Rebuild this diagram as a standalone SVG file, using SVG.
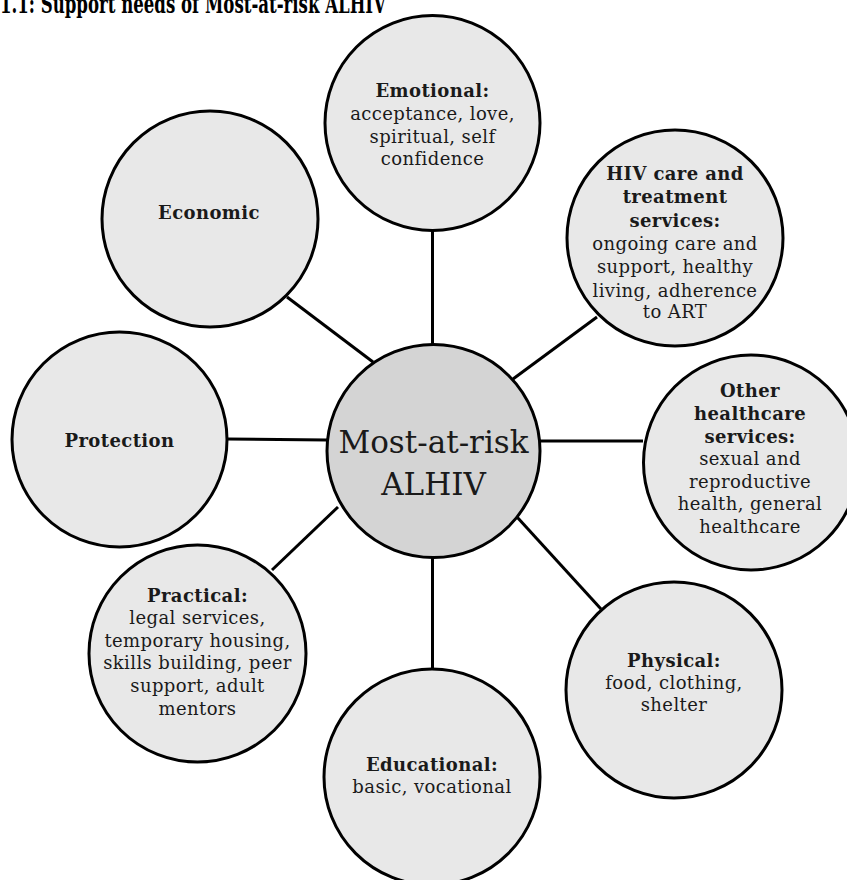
<svg xmlns="http://www.w3.org/2000/svg" width="847" height="880" viewBox="0 0 847 880">
<style>
.n{fill:#e8e8e8;stroke:#000;stroke-width:3}
.c{fill:#d4d4d4;stroke:#000;stroke-width:3}
.l{stroke:#000;stroke-width:3;fill:none}
text{font-family:"DejaVu Serif","Liberation Serif",serif;fill:#1a1a1a;text-anchor:middle}
.t{font-size:18px;letter-spacing:0.4px}
.b{font-weight:bold}
.ct{font-size:31px}
.title{font-size:26px;font-weight:bold;text-anchor:start;fill:#000;letter-spacing:0}
</style>
<rect width="847" height="880" fill="#fff"/>
<text class="title" x="0" y="13" textLength="386" lengthAdjust="spacingAndGlyphs">1.1: Support needs of Most-at-risk ALHIV</text>
<g id="connectors">
<line class="l" x1="432.5" y1="230" x2="432.5" y2="345"/>
<line class="l" x1="513" y1="379" x2="597" y2="317"/>
<line class="l" x1="540" y1="441" x2="643" y2="441"/>
<line class="l" x1="517" y1="517" x2="601" y2="609"/>
<line class="l" x1="432.5" y1="557" x2="432.5" y2="669"/>
<line class="l" x1="338" y1="507" x2="272" y2="570"/>
<line class="l" x1="227" y1="439" x2="327" y2="440"/>
<line class="l" x1="373" y1="362" x2="287" y2="297"/>
</g>
<g id="emotional">
<circle class="n" cx="432.5" cy="123" r="107.5"/>
<text class="t" x="432.5" y="97"><tspan class="b">Emotional:</tspan><tspan x="432.5" y="120">acceptance, love,</tspan><tspan x="432.5" y="143">spiritual, self</tspan><tspan x="432.5" y="165">confidence</tspan></text>
</g>
<g id="hiv-care">
<circle class="n" cx="675" cy="238" r="108"/>
<text class="t" x="675" y="180"><tspan class="b">HIV care and</tspan><tspan class="b" x="675" y="203">treatment</tspan><tspan class="b" x="675" y="227">services:</tspan><tspan x="675" y="250">ongoing care and</tspan><tspan x="675" y="273">support, healthy</tspan><tspan x="675" y="297">living, adherence</tspan><tspan x="675" y="318">to ART</tspan></text>
</g>
<g id="other-healthcare">
<circle class="n" cx="751" cy="462.5" r="107.5"/>
<text class="t" x="750" y="397"><tspan class="b">Other</tspan><tspan class="b" x="750" y="420">healthcare</tspan><tspan class="b" x="750" y="443">services:</tspan><tspan x="750" y="465">sexual and</tspan><tspan x="750" y="488">reproductive</tspan><tspan x="750" y="510">health, general</tspan><tspan x="750" y="533">healthcare</tspan></text>
</g>
<g id="physical">
<circle class="n" cx="674" cy="690" r="108"/>
<text class="t" x="674" y="667"><tspan class="b">Physical:</tspan><tspan x="674" y="689">food, clothing,</tspan><tspan x="674" y="711">shelter</tspan></text>
</g>
<g id="educational">
<circle class="n" cx="432" cy="777" r="108"/>
<text class="t" x="432" y="771"><tspan class="b">Educational:</tspan><tspan x="432" y="793">basic, vocational</tspan></text>
</g>
<g id="practical">
<circle class="n" cx="197.5" cy="653.5" r="108.5"/>
<text class="t" x="197.5" y="602"><tspan class="b">Practical:</tspan><tspan x="197.5" y="624">legal services,</tspan><tspan x="197.5" y="647">temporary housing,</tspan><tspan x="197.5" y="669">skills building, peer</tspan><tspan x="197.5" y="692">support, adult</tspan><tspan x="197.5" y="715">mentors</tspan></text>
</g>
<g id="protection">
<circle class="n" cx="119.5" cy="439.5" r="107.5"/>
<text class="t b" x="119.5" y="447">Protection</text>
</g>
<g id="economic">
<circle class="n" cx="210" cy="219" r="108"/>
<text class="t b" x="209" y="219">Economic</text>
</g>
<g id="center">
<circle class="c" cx="433.5" cy="451" r="106.5"/>
<text class="ct" x="433.5" y="453">Most-at-risk<tspan x="433.5" y="495">ALHIV</tspan></text>
</g>
</svg>
